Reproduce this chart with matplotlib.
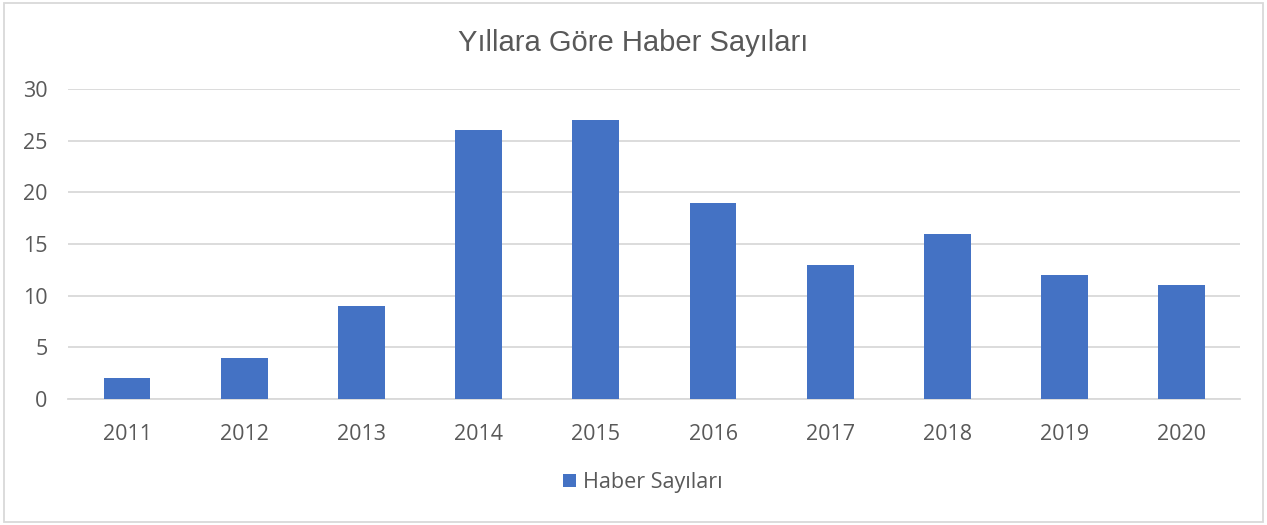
import matplotlib.pyplot as plt
from matplotlib.patches import Rectangle

years = ['2011', '2012', '2013', '2014', '2015', '2016', '2017', '2018', '2019', '2020']
counts = [2, 4, 9, 26, 27, 19, 13, 16, 12, 11]
yticks = [0, 5, 10, 15, 20, 25, 30]

bar_color = '#4472C4'
grid_color = '#D9D9D9'
text_color = '#595959'

fig = plt.figure(figsize=(12.67, 5.25), dpi=100)
ax = fig.add_axes([0.054, 0.24, 0.925, 0.5905])

x = range(len(years))
ax.bar(x, counts, width=0.4, color=bar_color, zorder=3, label='Haber Sayıları')
ax.set_xlim(-0.5, len(years) - 0.5)
ax.set_ylim(0, 30)
ax.set_yticks(yticks)
ax.set_xticks(list(x))
ax.set_xticklabels(years)

ax.grid(axis='y', color=grid_color, linewidth=1.3, zorder=0)
for s in ['top', 'right', 'left']:
    ax.spines[s].set_visible(False)
ax.spines['bottom'].set_color(grid_color)
ax.spines['bottom'].set_linewidth(1.3)
ax.tick_params(axis='both', length=0, labelsize=15.5, labelcolor=text_color,
               labelfontfamily='Open Sans')
ax.tick_params(axis='x', pad=18)
ax.tick_params(axis='y', pad=15)

fig.text(0.5, 0.918, 'Yıllara Göre Haber Sayıları', ha='center', va='center',
         fontsize=21, color=text_color, family='Liberation Sans')

leg = ax.legend(loc='center', bbox_to_anchor=(0.49, -0.27), frameon=False,
                prop={'family': 'Open Sans', 'size': 15.5}, handlelength=0.6,
                handleheight=0.6, handletextpad=0.35)
for t in leg.get_texts():
    t.set_color(text_color)

fig.patches.append(Rectangle((0.003, 0.006), 0.994, 0.988, transform=fig.transFigure,
                             fill=False, edgecolor=grid_color, linewidth=1.3))

fig.savefig('out.png', dpi=100)
